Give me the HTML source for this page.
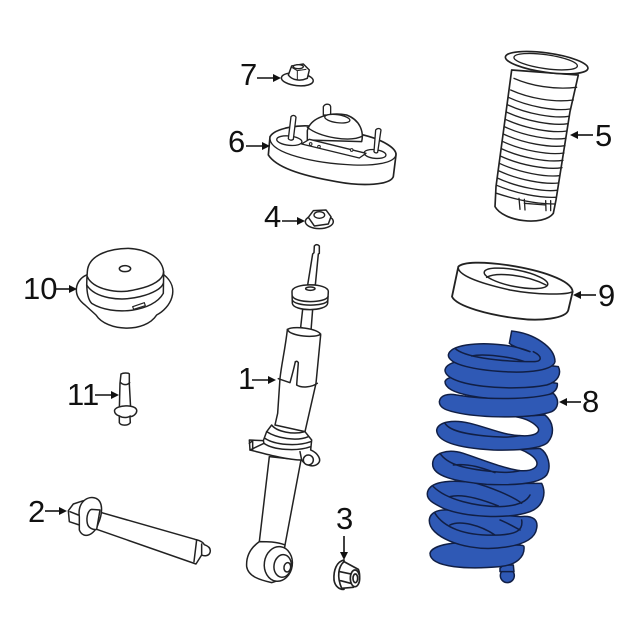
<!DOCTYPE html>
<html><head><meta charset="utf-8"><style>
html,body{margin:0;padding:0;background:#fff}
svg{display:block}
text{font-family:"Liberation Sans",sans-serif;font-size:31px;fill:#111}
.l path,.l ellipse,.l circle{fill:#fff;stroke:#222;stroke-linejoin:round;stroke-linecap:round}
.n{fill:none!important}
.s path,.s circle{fill:#2f59b5;stroke:#111f45;stroke-width:4.5;stroke-linejoin:round;stroke-linecap:round}
</style></head><body>
<svg width="640" height="640" viewBox="0 0 640 640" xmlns="http://www.w3.org/2000/svg">
<rect width="640" height="640" fill="#fff"/>

<!-- 7 & 6 & 4 -->
<g class="l" transform="translate(220,40) scale(.3333)" stroke-width="4">
<ellipse cx="232" cy="118" rx="48" ry="19" transform="rotate(6 232 118)" stroke-width="4.5"/>
<path d="M205,105 L215,78 L250,72 L268,90 L262,115 C240,125 215,120 205,105Z" stroke-width="4.5"/>
<ellipse cx="235" cy="80" rx="15" ry="6" stroke-width="4"/>
<path class="n" d="M215,82 L232,92 L258,88 M232,92 L232,120" stroke-width="3"/>

<path d="M150,290 C165,265 240,250 300,262 L430,285 C490,300 530,325 528,345 L520,410 C510,435 430,440 350,425 C260,410 170,385 145,345Z" stroke-width="5"/>
<path class="n" d="M150,298 C155,340 280,370 400,375 C480,378 530,365 528,340" stroke-width="4"/>
<ellipse cx="208" cy="302" rx="38" ry="14" transform="rotate(6 208 302)"/>
<ellipse cx="465" cy="342" rx="33" ry="13" transform="rotate(6 465 342)"/>
<path d="M205,296 L213,230 C218,224 226,226 228,232 L220,298 C215,302 208,301 205,296Z"/>
<path d="M462,335 L467,270 C472,264 480,264 483,270 L473,337 C470,340 464,339 462,335Z"/>
<path d="M310,225 L310,200 C315,190 330,190 332,200 L332,225Z"/>
<path d="M262,272 C272,232 330,215 380,225 C420,240 432,275 425,305 L262,300Z" stroke-width="4.5"/>
<ellipse cx="352" cy="236" rx="38" ry="12" transform="rotate(8 352 236)"/>
<path class="n" d="M262,262 C300,292 390,308 428,288" stroke-width="4"/>
<path d="M245,312 L268,298 L438,340 L418,354 Z" stroke-width="4"/>
<circle cx="272" cy="312" r="4" stroke-width="3"/><circle cx="297" cy="320" r="4" stroke-width="3"/><circle cx="395" cy="330" r="4" stroke-width="3"/>

<ellipse cx="298" cy="545" rx="42" ry="21" stroke-width="4.5"/>
<path d="M265,532 L280,512 L318,510 L333,530 L325,552 L283,558 Z" stroke-width="4.5"/>
<ellipse cx="298" cy="525" rx="16" ry="10" stroke-width="4"/>
</g>

<!-- 5 boot -->
<g class="l" transform="translate(480,40) scale(.3333)" stroke-width="4">
<path d="M95,90 L85,165 L48,440 L45,500 C70,545 190,560 220,520 L228,480 L270,215 L295,105 Z" stroke-width="5"/>
<ellipse cx="200" cy="68" rx="125" ry="29" transform="rotate(8 200 68)" stroke-width="5"/>
<ellipse cx="197" cy="65" rx="96" ry="21" transform="rotate(8 197 65)" stroke-width="4"/>
<path class="n" d="M102,115 c50,22 120,35 188,27 M92,150 c55,25 130,38 188,30"/>
<path class="n" d="M85,172 c60,28 140,42 185,35 M82,194 c60,28 140,42 185,35 M79,216 c60,28 140,42 185,35 M76,238 c60,28 140,42 185,35 M73,260 c60,28 140,42 185,35 M70,282 c60,28 140,42 185,35 M67,304 c60,28 140,42 185,35 M64,326 c60,28 140,42 185,35 M61,348 c60,28 140,42 185,35 M58,370 c60,28 140,42 180,37 M55,392 c60,28 140,42 180,37 M52,414 c60,28 140,42 178,37 M50,436 c60,25 130,38 176,36 M50,460 c60,20 120,32 176,32"/>
<path class="n" d="M117,475 L120,508 M133,478 L135,510 M197,482 L198,512 M212,482 L212,512 M133,490 L197,495"/>
</g>

<!-- 9 ring -->
<g class="l" transform="translate(440,250) scale(.3333)" stroke-width="4.5">
<path d="M55,50 C70,35 130,35 200,45 C300,60 395,90 398,125 L385,180 C380,205 300,215 230,205 C150,195 50,170 36,140 Z" stroke-width="5.5"/>
<path class="n" d="M55,50 C50,75 120,100 210,120 C290,135 380,135 398,125"/>
<ellipse cx="228" cy="85" rx="97" ry="25" transform="rotate(11 228 85)"/>
<path class="n" d="M140,82 C170,65 260,75 318,105"/>
</g>

<!-- 10, 11 -->
<g class="l" transform="translate(20,240) scale(.3333)" stroke-width="4.5">
<path d="M200,105 C165,120 155,165 195,195 L228,225 C260,275 375,280 410,225 C450,205 485,145 430,103 Z"/>
<path d="M202,95 C205,40 280,25 325,25 C390,28 430,60 431,100 L430,160 C400,215 280,230 215,190 C200,175 198,140 202,95Z"/>
<path class="n" d="M202,110 C215,145 290,165 350,148 C400,138 430,118 431,95 M200,135 C225,175 300,185 360,170 C400,160 425,145 430,130"/>
<ellipse cx="315" cy="86" rx="17" ry="9"/>
<path d="M338,200 L373,188 L376,197 L341,208Z" stroke-width="3.5"/>

<path d="M298,510 L300,430 L303,402 C310,398 325,398 328,402 L328,432 L332,505Z"/>
<path class="n" d="M302,428 C310,436 322,436 329,428"/>
<path d="M284,510 C290,495 345,492 350,510 C352,520 340,530 330,530 L331,548 C325,558 302,558 298,548 L298,528 C288,525 282,518 284,510Z"/>
<path class="n" d="M298,528 C310,535 325,533 331,528"/>
</g>

<!-- 2 bolt -->
<g class="l" transform="translate(20,480) scale(.3333)" stroke-width="4.5">
<path d="M210,88 L525,178 C528,180 545,180 553,194 C565,198 574,205 570,218 C565,230 550,228 545,225 L528,252 L230,148Z"/>
<path class="n" d="M530,180 L522,245 M545,192 L545,225"/>
<path d="M145,92 L160,72 L190,62 L205,120 L178,135 L148,125Z"/>
<path d="M178,110 C172,65 205,45 228,55 C250,65 248,100 235,130 C225,165 190,180 178,150 Z"/>
<path d="M215,88 C205,90 198,110 202,130 C205,145 220,150 230,148 L240,90Z"/>
<path class="n" d="M150,95 L175,105"/>
</g>

<!-- 1 strut -->
<g class="l" transform="translate(230,240) scale(.3333)" stroke-width="4.5">
<path d="M253,18 Q260,10 268,18 L268,40 L265,42 L256,135 L233,135 L248,42 L252,38Z"/>
<path d="M212,262 L218,208 L248,208 L243,272Z"/>
<path d="M186,155 C186,128 295,128 295,155 L293,190 C290,215 190,215 187,190Z"/>
<path class="n" d="M187,168 C195,190 285,190 294,170 M187,180 C195,200 285,200 293,182"/>
<ellipse cx="241" cy="146" rx="14" ry="5"/>
<path d="M172,270 C180,255 270,265 272,285 L258,430 L225,575 L135,555 L143,520 L150,415 C155,370 165,330 172,270Z"/>
<path class="n" d="M172,268 C180,290 260,295 272,282 M196,365 C192,385 185,410 180,428 L145,416 M205,368 L200,435 C215,445 245,442 262,430 M196,367 Q200,360 205,368"/>
<path d="M118,650 L88,905 L165,915 L213,660Z"/>
</g>
<g class="l" transform="translate(240,410) scale(.3333)" stroke-width="4.5">
<path d="M28,90 L70,92 L80,65 L95,45 C110,65 160,75 195,65 L215,90 L212,120 C235,130 245,150 235,160 C220,175 195,165 185,150 C140,150 70,130 30,120 Z"/>
<path class="n" d="M80,65 C110,85 170,95 205,80 M75,85 C105,105 170,110 212,95 M72,100 C100,120 170,125 212,110 M28,100 L38,92 L38,120 M70,92 L72,100 L30,120 M180,125 L185,150"/>
<circle cx="205" cy="150" r="15"/>
</g>
<g class="l" transform="translate(230,240) scale(.3333)" stroke-width="4.5">
<path d="M88,905 C60,925 48,950 50,980 C55,1010 90,1020 125,1028 L150,1020 L165,915 C140,905 110,905 88,905Z"/>
<ellipse cx="145" cy="972" rx="42" ry="52" transform="rotate(8 145 972)"/>
<ellipse cx="158" cy="978" rx="26" ry="34" transform="rotate(8 158 978)"/>
<ellipse cx="172" cy="982" rx="10" ry="14" transform="rotate(8 172 982)"/>
</g>

<!-- 3 nut -->
<g class="l" transform="translate(320,550) scale(.3333)" stroke-width="5">
<path d="M72,30 C50,35 40,60 42,90 C45,110 60,120 72,118 L72,30Z"/>
<path d="M72,35 L115,58 C122,75 120,100 100,112 L65,115 C50,80 55,50 72,35Z"/>
<ellipse cx="105" cy="85" rx="14" ry="25"/>
<ellipse cx="106" cy="85" rx="7" ry="13"/>
<path class="n" d="M60,65 L92,72 M62,92 L92,100"/>
</g>

<!-- 8 spring -->
<g class="s" transform="translate(420,320) scale(.3333)">
<circle cx="262" cy="767" r="21"/>
<path d="M240,745 L250,735 L280,735 L282,755 L240,755Z"/>
<path d="M30,700 C35,675 110,660 200,672 C260,680 310,670 312,680 C315,710 290,735 240,740 C150,748 30,745 30,700Z"/>
<path d="M28,600 C30,575 60,565 100,572 L300,590 C340,585 355,600 350,625 C345,660 300,680 220,685 C130,690 25,650 28,600Z"/>
<path style="fill:none" d="M45,580 C70,620 130,650 240,645 C290,642 310,630 305,600 M90,615 C120,600 180,615 225,645 M240,600 C265,610 290,625 300,630"/>
<path d="M22,520 C25,490 70,480 130,485 C200,490 280,490 330,490 L365,490 C380,520 370,560 330,575 C260,600 130,590 70,565 C40,550 20,540 22,520Z"/>
<path style="fill:none" d="M40,500 C80,540 170,560 240,560 C290,558 320,545 330,525 M90,530 C130,520 190,540 235,558 M150,485 C210,500 280,530 305,550"/>
<path d="M38,430 C40,400 80,385 130,400 C190,420 250,445 300,452 C340,455 355,440 350,425 C345,410 320,395 300,388 L360,385 C385,400 395,440 380,465 C360,490 290,497 200,493 C110,485 35,470 38,430Z"/>
<path style="fill:none" d="M60,400 C80,430 120,445 220,455 C260,460 290,455 300,452 M100,435 C150,430 190,445 225,458"/>
<path d="M50,330 C55,305 100,298 150,310 C210,325 250,345 300,347 C340,350 360,340 355,325 C345,310 320,295 285,290 L375,285 C400,305 405,340 385,365 C370,385 300,392 220,390 C130,385 50,370 50,330Z"/>
<path style="fill:none" d="M75,310 C90,335 150,345 220,350 C260,353 285,350 300,347"/>
<path d="M75,185 C80,165 150,160 250,165 L412,190 C415,215 390,235 300,238 C200,240 75,225 75,185Z"/>
<path d="M58,245 C60,225 85,220 110,225 C200,240 330,240 400,220 C420,240 415,265 395,275 C340,295 200,295 120,280 C80,272 58,265 58,245Z"/>
<path d="M75,150 C80,120 150,115 250,120 L415,140 C425,160 415,185 380,195 C280,215 75,200 75,150Z"/>
<path d="M85,105 C90,75 170,65 250,75 C290,80 320,90 330,95 C300,85 280,80 268,70 L275,33 C340,40 405,80 405,125 C400,150 330,160 250,155 C170,150 85,135 85,105Z"/>
<path style="fill:none" d="M105,85 C130,110 230,125 340,125 C365,125 370,110 340,95 M155,108 C190,100 270,110 315,125"/>
</g>

<!-- arrows -->
<g stroke="#111" stroke-width="1.6" fill="#111">
<path d="M257,78H275"/><path d="M281,78l-8,-4v8z" stroke="none"/>
<path d="M246,146H263"/><path d="M270,146l-8,-4v8z" stroke="none"/>
<path d="M282,221H299"/><path d="M305,221l-8,-4v8z" stroke="none"/>
<path d="M593,135H577"/><path d="M570,135l8,-4v8z" stroke="none"/>
<path d="M596,295H580"/><path d="M573,295l8,-4v8z" stroke="none"/>
<path d="M581,402H566"/><path d="M559,402l8,-4v8z" stroke="none"/>
<path d="M55,289H71"/><path d="M77,289l-8,-4v8z" stroke="none"/>
<path d="M95,395H113"/><path d="M119,395l-8,-4v8z" stroke="none"/>
<path d="M252,380H270"/><path d="M276,380l-8,-4v8z" stroke="none"/>
<path d="M45,511H61"/><path d="M67,511l-8,-4v8z" stroke="none"/>
<path d="M344,536V553"/><path d="M344,560l-4,-8h8z" stroke="none"/>
</g>

<text x="240" y="85">7</text>
<text x="228" y="152">6</text>
<text x="264" y="227">4</text>
<text x="595" y="146">5</text>
<text x="598" y="306">9</text>
<text x="582" y="412">8</text>
<text x="23" y="299">10</text>
<text x="67" y="405">11</text>
<text x="238" y="389">1</text>
<text x="28" y="522">2</text>
<text x="336" y="529">3</text>
</svg>
</body></html>
